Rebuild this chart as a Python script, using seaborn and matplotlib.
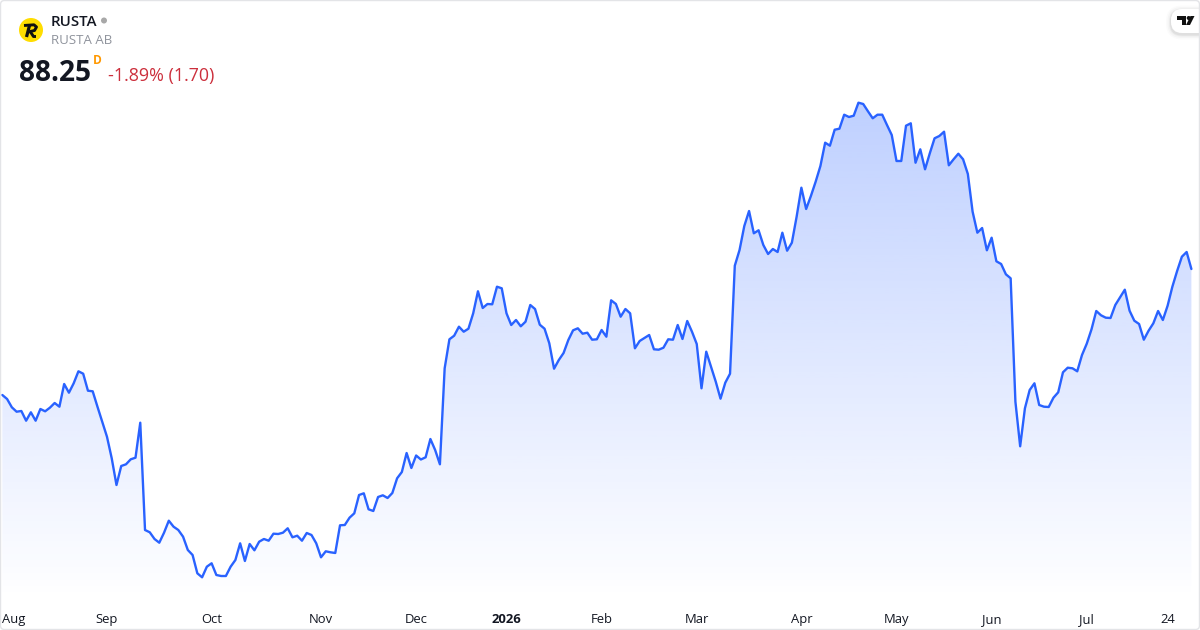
import numpy as np
import pandas as pd
import seaborn as sns
import matplotlib.pyplot as plt
from matplotlib.patches import Circle, FancyBboxPatch, Polygon

# closing price per trading session
closes_aug_oct = [
    75.65, 75.25, 74.42, 73.98, 74.05, 73.08, 73.92, 73.08, 74.25, 74.02, 74.38,
    74.85, 74.48, 76.75, 75.88, 76.82, 78.02, 77.78, 76.08, 76.02, 74.48, 72.98,
    71.48, 69.32, 66.65, 68.55, 68.72, 69.22, 69.38, 72.88, 62.15, 61.92, 61.25,
    60.88, 61.88, 63.08, 62.48, 62.15, 61.48, 60.15, 59.65, 57.82, 57.42, 58.48,
    58.82, 57.65, 57.55, 57.55, 58.48, 59.15, 60.82, 59.05, 60.75, 60.12, 60.98,
    61.25, 61.08, 61.78, 61.75, 61.88, 62.32, 61.42, 61.58, 61.08, 61.85, 61.65,
    60.82,
]
closes_nov_dec = [
    59.42, 60.02, 59.92, 59.85, 62.62, 62.65, 63.38, 63.82, 65.65, 65.82, 64.22,
    64.05, 65.45, 65.62, 65.35, 65.85, 67.32, 67.95, 69.85, 68.35, 69.6, 69.2,
    69.42, 71.25, 70.15, 68.72, 78.32, 81.22, 81.58, 82.48, 81.98, 82.28, 83.82,
    86.02, 84.35, 84.75, 84.72, 86.48, 86.32,
]
closes_jan_mar = [
    83.82, 82.65, 83.15, 82.52, 82.98, 84.65, 84.25, 82.68, 82.28, 80.82, 78.28,
    79.15, 79.85, 81.15, 82.12, 82.32, 81.78, 81.88, 81.18, 81.22, 82.15, 81.48,
    85.12, 84.75, 83.48, 84.25, 83.82, 80.32, 81.05, 81.35, 81.65, 80.22, 80.18,
    80.38, 81.22, 81.18, 82.65, 81.25, 83.05, 81.98, 80.75, 76.32, 79.98, 78.48,
    76.98, 75.28, 76.88, 77.78, 88.58, 90.15, 92.55, 94.05, 91.82, 92.12, 90.65,
    89.75, 90.25, 89.95, 91.88, 90.08, 90.88, 93.48, 96.38, 94.25,
]
closes_apr_jun = [
    95.55, 96.98, 98.55, 100.88, 100.58, 102.18, 102.28, 103.68, 103.45, 103.58,
    104.88, 104.75, 104.02, 103.32, 103.68, 103.68, 102.65, 101.65, 99.05, 99.05,
    102.58, 102.82, 98.88, 100.22, 98.22, 99.82, 101.32, 101.55, 101.98, 98.62,
    99.22, 99.78, 99.22, 97.75, 93.98, 91.88, 92.35, 90.12, 91.38, 89.02, 88.75,
    87.72, 87.32, 74.98, 70.52, 74.32, 76.15, 76.82, 74.65, 74.48, 74.45, 75.38,
    75.92, 77.92, 78.38, 78.32, 78.02, 79.65, 80.78,
]
closes_jul = [
    82.22, 84.05, 83.62, 83.38, 83.35, 84.65, 85.42, 86.18, 84.08, 83.08, 82.75,
    81.18, 82.08, 82.82, 84.05, 83.15, 84.58, 86.48, 88.05, 89.48, 89.95, 88.25,
]
closes = closes_aug_oct + closes_nov_dec + closes_jan_mar + closes_apr_jun + closes_jul
sessions = list(range(len(closes)))

month_sessions = [0, 22, 44, 67, 87, 106, 126, 146, 168, 188, 208, 228, 245]
month_labels = ["Aug", "Sep", "Oct", "Nov", "Dec", "2026", "Feb", "Mar", "Apr", "May", "Jun", "Jul", "24"]

ticker = "RUSTA"
company = "RUSTA AB"
last_price = "88.25"
change_text = "-1.89% (1.70)"

LINE_BLUE = "#2962ff"
FONT = "Open Sans"

sns.set_theme(style="white")
plt.rcParams["font.family"] = [FONT, "DejaVu Sans"]

df = pd.DataFrame({"session": sessions, "close": closes})

fig = plt.figure(figsize=(12, 6.3), dpi=100)
ax = fig.add_axes([0, 0, 1, 1])
ax.set_xlim(-0.49, 251.81)
ax.set_ylim(52.15, 115.15)

# area under the line: a vertical gradient clipped to the series
area = ax.fill_between(df["session"], df["close"], 55.15, color="none", lw=0)
top = df["close"].max()
grad = np.zeros((256, 1, 4))
grad[:, 0, 0] = 0x29 / 255
grad[:, 0, 1] = 0x62 / 255
grad[:, 0, 2] = 1.0
grad[:, 0, 3] = np.linspace(0.30, 0.0, 256)
im = ax.imshow(grad, extent=[df["session"].min(), df["session"].max(), 55.15, top],
               aspect="auto", origin="upper", zorder=1)
im.set_clip_path(area.get_paths()[0], transform=ax.transData)
ax.set_xlim(-0.49, 251.81)
ax.set_ylim(52.15, 115.15)

sns.lineplot(data=df, x="session", y="close", color=LINE_BLUE, linewidth=1.7, ax=ax, zorder=3)

ax.set_xlabel("")
ax.set_ylabel("")
ax.set_yticks([])
ax.set_xticks(month_sessions)
ax.set_xticklabels(month_labels, fontsize=9.4, color="#131722")
ax.tick_params(axis="x", direction="in", pad=-12.5, length=0)
ax.get_xticklabels()[0].set_ha("left")
ax.get_xticklabels()[5].set_fontweight("bold")
for spine in ax.spines.values():
    spine.set_visible(False)

# overlay in pixel coordinates for the header and the card frame
over = fig.add_axes([0, 0, 1, 1], facecolor="none")
over.set_xlim(0, 1200)
over.set_ylim(630, 0)
over.axis("off")

# yellow logo with a hand drawn R
over.add_patch(Circle((31, 30), 12, fc="#ffdd00", ec="none"))
over.plot([29.5, 26.5], [25.5, 37], color="#111111", lw=2.3, solid_capstyle="butt")
over.plot([24, 34, 36.5, 34.5, 28], [25.5, 24.8, 27, 30.5, 32], color="#111111", lw=2.1,
          solid_joinstyle="round", solid_capstyle="butt")
over.plot([30.5, 33.5, 36], [32, 36.5, 36.5], color="#111111", lw=2.1, solid_capstyle="butt")

over.text(51, 22, ticker, fontsize=10.8, fontweight="semibold", color="#131722", va="center")
over.add_patch(Circle((104, 20.5), 3, fc="#a8a8a8", ec="none"))
over.text(51, 41, company, fontsize=9.5, color="#8f939c", va="center")
over.text(19, 73.5, last_price, fontsize=20.2, fontweight="bold", color="#131722", va="center")
over.text(93, 61, "D", fontsize=8.6, fontweight="bold", color="#ff9800", va="center")
over.text(108, 75.5, change_text, fontsize=12.85, color="#cc2f3c", va="center")

# tradingview badge, soft shadow then the pill
for grow, alpha in [(5, 0.015), (3.5, 0.025), (2, 0.04), (1, 0.05)]:
    over.add_patch(FancyBboxPatch((1171 - grow, 9 - grow + 1.5), 45, 24 + 2 * grow,
                                  boxstyle="round,pad=0,rounding_size=%g" % (11 + grow),
                                  fc="black", ec="none", alpha=alpha, zorder=4))
over.add_patch(FancyBboxPatch((1171, 9), 45, 24, boxstyle="round,pad=0,rounding_size=11",
                              fc="white", ec="none", zorder=4))
over.add_patch(Polygon([(1177, 16), (1186, 16), (1186, 25), (1181.5, 25), (1181.5, 20), (1177, 20)],
                       fc="#111111", ec="none", zorder=5))
over.add_patch(Circle((1188.7, 18), 2, fc="#111111", ec="none", zorder=5))
over.add_patch(Polygon([(1190.5, 16), (1194.5, 16), (1190, 25), (1186, 25)], fc="#111111", ec="none", zorder=5))

# card frame on top of everything
over.add_patch(FancyBboxPatch((0.5, 0.5), 1199, 629, boxstyle="round,pad=0,rounding_size=4",
                              fc="none", ec="#e3e4e7", lw=1, zorder=6))

fig.savefig("out.png", dpi=100)
